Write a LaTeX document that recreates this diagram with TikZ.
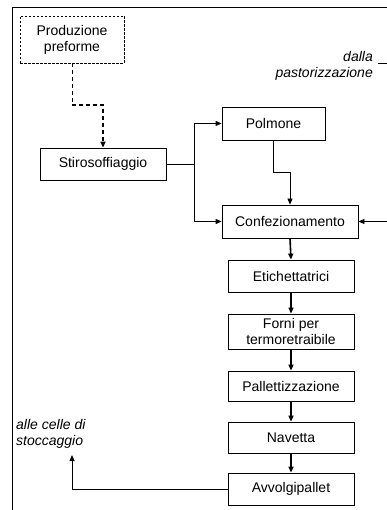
\documentclass[tikz,border=0pt]{standalone}
\usepackage{fontspec}
\setmainfont{Liberation Sans}
\usetikzlibrary{arrows.meta}
\begin{document}
\begin{tikzpicture}[x=1pt,y=-1pt,
  txt/.style={font=\fontsize{14}{16}\selectfont},
  box/.style={draw,line width=0.8pt,txt,align=center,inner sep=0pt},
  conn/.style={line width=0.8pt,-{Triangle[length=6pt,width=5pt]}},
  thick conn/.style={line width=1.6pt,-{Triangle[length=6pt,width=5pt]}},
  lbl/.style={txt,font=\fontsize{14}{16}\selectfont\itshape,inner sep=0pt}]
\useasboundingbox (0,0) rectangle (387,510);
\draw[line width=0.8pt] (387,7) -- (12,7) -- (12,510);
\node[box,dash pattern=on 2.5pt off 1.5pt,minimum width=104pt,minimum height=47pt] (prod) at (72,39.5) {Produzione\\preforme};
\node[box,minimum width=126pt,minimum height=32pt] (stiro) at (103,164) {Stirosoffiaggio};
\node[box,minimum width=103pt,minimum height=33pt] (polm) at (273.5,123.5) {Polmone};
\node[box,minimum width=136pt,minimum height=33pt] (conf) at (290,221.5) {Confezionamento};
\node[box,minimum width=126pt,minimum height=32pt] (etic) at (291,276) {Etichettatrici};
\node[box,minimum width=126pt,minimum height=35pt] (forni) at (291,331.5) {Forni per\\termoretraibile};
\node[box,minimum width=126pt,minimum height=30pt] (pall) at (291,386) {Pallettizzazione};
\node[box,minimum width=126pt,minimum height=31pt] (nav) at (291,437.5) {Navetta};
\node[box,minimum width=126pt,minimum height=32pt] (avv) at (291,489) {Avvolgipallet};
\node[lbl,align=right,anchor=east] (dalla) at (373,66) {dalla\\pastorizzazione};
\node[lbl,align=left,anchor=west] (alle) at (16,434) {alle celle di\\stoccaggio};
\coordinate (d1) at (378,63);
\coordinate (d2) at (387,63);
\coordinate (pin) at (387,221.5);
\coordinate (split) at (194,164);
\coordinate (bend) at (72,105);
\coordinate (out) at (72,455);
\draw[line width=0.8pt] (d1) -- (d2);
\draw[line width=0.9pt,dash pattern=on 4pt off 3pt] (prod.south) -- (bend);
\draw[line width=1.6pt,dash pattern=on 4pt off 3pt,-{Triangle[length=6pt,width=5pt]}] (bend) -| (stiro.north);
\draw[line width=0.8pt] (stiro.east) -- (split);
\draw[conn] (split) |- (polm.west);
\draw[conn] (split) |- (conf.west);
\draw[conn] (polm.south) -- (273.5,172) -| (conf.north);
\draw[conn] (pin) -- (conf.east);
\draw[thick conn] (conf.south) -- (etic.north);
\draw[thick conn] (etic.south) -- (forni.north);
\draw[thick conn] (forni.south) -- (pall.north);
\draw[thick conn] (pall.south) -- (nav.north);
\draw[thick conn] (nav.south) -- (avv.north);
\draw[conn] (avv.west) -| (out);
\end{tikzpicture}
\end{document}
